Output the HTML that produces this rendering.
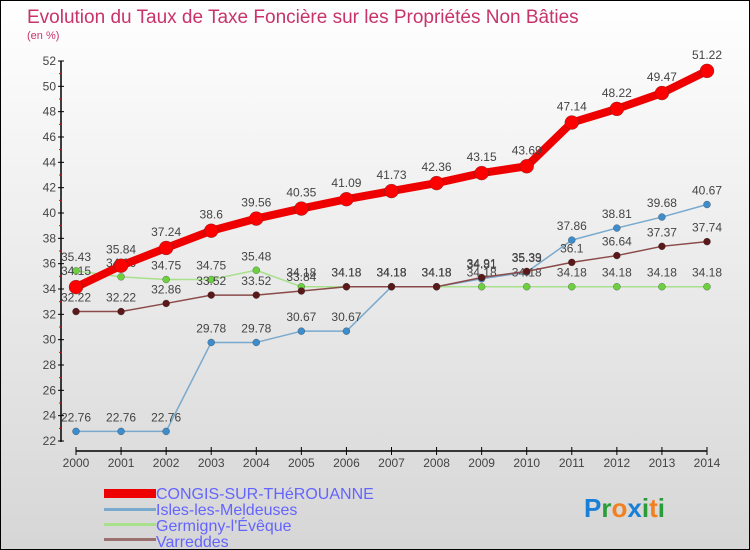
<!DOCTYPE html>
<html><head><meta charset="utf-8"><style>
body{margin:0}
#c{width:748px;height:548px;border:1px solid #000;background:linear-gradient(#fff,#d6d6d6);position:relative;font-family:"Liberation Sans",sans-serif;overflow:hidden}
svg text{font-family:"Liberation Sans",sans-serif}
</style></head><body>
<div id="c">
<svg id="s" width="748" height="548">
<text x="26" y="22" font-size="19" fill="#c8336a">Evolution du Taux de Taxe Foncière sur les Propriétés Non Bâties</text>
<text x="26" y="38" font-size="11" fill="#c8336a">(en %)</text>
<g id="g"></g>
<g>
<rect x="103" y="488" width="52" height="9" fill="#e00"></rect>
<text x="155" y="498" font-size="16" fill="#6464ff">CONGIS-SUR-THéROUANNE</text>
<rect x="103" y="507" width="52" height="3" fill="#79a9cc"></rect>
<text x="155" y="514" font-size="16" fill="#6464ff">Isles-les-Meldeuses</text>
<rect x="103" y="522" width="52" height="3" fill="#a8e08c"></rect>
<text x="155" y="530" font-size="16" fill="#6464ff">Germigny-l'Évêque</text>
<rect x="103" y="537" width="52" height="3" fill="#9a7070"></rect>
<text x="155" y="546" font-size="16" fill="#6464ff">Varreddes</text>
</g>
<text x="583" y="516" font-size="26" font-weight="bold"><tspan fill="#1a7fd6">P</tspan><tspan fill="#2a9d3a">r</tspan><tspan fill="#f08020">o</tspan><tspan fill="#1a7fd6">x</tspan><tspan fill="#2a9d3a">i</tspan><tspan fill="#f08020">t</tspan><tspan fill="#2a9d3a">i</tspan></text>
</svg></div>
<script>
const years=[2000,2001,2002,2003,2004,2005,2006,2007,2008,2009,2010,2011,2012,2013,2014];
const congis=[34.15,35.84,37.24,38.6,39.56,40.35,41.09,41.73,42.36,43.15,43.69,47.14,48.22,49.47,51.22];
const isles=[22.76,22.76,22.76,29.78,29.78,30.67,30.67,34.18,34.18,34.81,35.33,37.86,38.81,39.68,40.67];
const germigny=[35.43,34.96,34.75,34.75,35.48,34.18,34.18,34.18,34.18,34.18,34.18,34.18,34.18,34.18,34.18];
const varreddes=[32.22,32.22,32.86,33.52,33.52,33.84,34.18,34.18,34.18,34.91,35.39,36.1,36.64,37.37,37.74];
const yTicks=[22,24,26,28,30,32,34,36,38,40,42,44,46,48,50,52];
const X=i=>75+i*(706-75)/14, Y=v=>440-(v-22)*380/30;
const g=document.getElementById('g'),NS='http://www.w3.org/2000/svg';
function mk(t,a){const e=document.createElementNS(NS,t);for(const k in a)e.setAttribute(k,a[k]);g.appendChild(e);return e;}
let e=mk('line',{x1:60,y1:60,x2:60,y2:441,stroke:'#000','stroke-width':1.5});


e=mk('line',{x1:75,y1:450,x2:706,y2:450,stroke:'#000','stroke-width':1.5});


yTicks.forEach(v=>{
 mk('line',{x1:57,x2:63,y1:Y(v),y2:Y(v),stroke:'#000'});
 if(v<52)mk('line',{x1:58,x2:61,y1:Y(v+1),y2:Y(v+1),stroke:'#e00'});
 const t=mk('text',{x:55,y:Y(v)+4,'font-size':12,fill:'#444','text-anchor':'end'});t.textContent=v;
 
 
});
years.forEach((yr,i)=>{
 mk('line',{x1:X(i),x2:X(i),y1:446,y2:454,stroke:'#000'});
 const t=mk('text',{x:X(i),y:466,'font-size':12,fill:'#444','text-anchor':'middle'});t.textContent=yr;
 
 
});
function series(d,name,col,dot,w,r,lab){
 const p=mk('polyline',{points:d.map((v,i)=>X(i)+','+Y(v)).join(' '),fill:'none',stroke:col,'stroke-width':w,'stroke-linejoin':'round'});
 
 
 d.forEach((v,i)=>{
  const c=mk('circle',{cx:X(i),cy:Y(v),r:r,fill:dot,stroke:'#333','stroke-width':0.3});
  
  
  const t=mk('text',{x:X(i),y:Y(v)-lab,'font-size':12,fill:'#444','text-anchor':'middle'});t.textContent=v;
  
  
 });
}
series(isles,'isles','#79a9cc','#3d8ccc',1.5,3.5,10);
series(germigny,'germigny','#a8e08c','#6cd040',1.5,3.5,10);
series(varreddes,'varreddes','#8a4a4a','#5a1818',1.5,3.5,10);
series(congis,'congis','#e00','#f00',8,7,12);
</script>
</body></html>
